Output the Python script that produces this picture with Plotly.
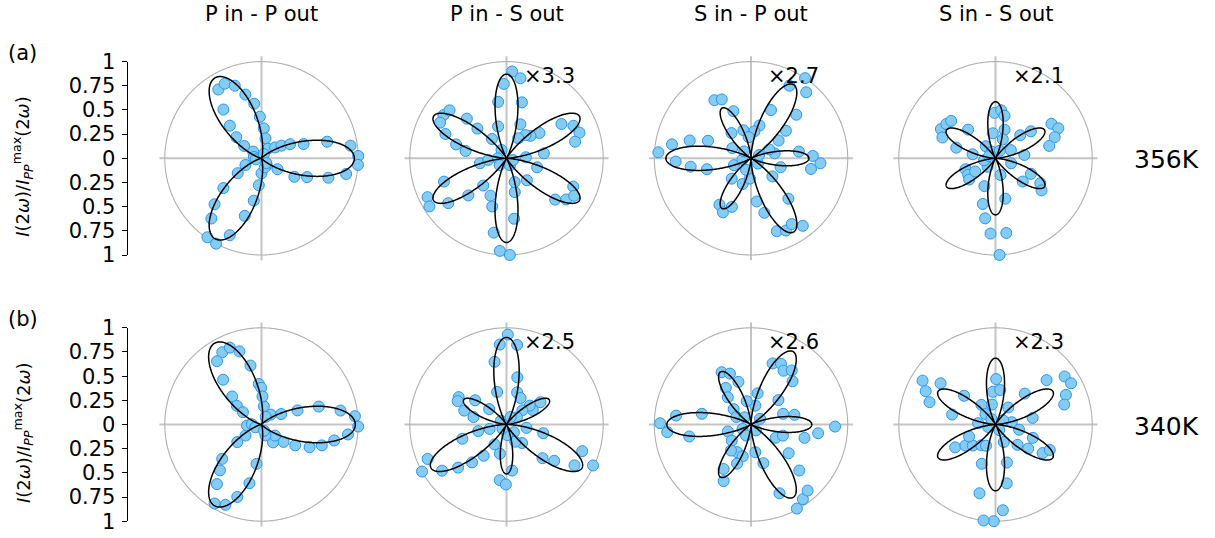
import numpy as np
import plotly.graph_objects as go

W, H = 1215, 538
FONT = "DejaVu Sans"

col_titles = ["P in - P out", "P in - S out", "S in - P out", "S in - S out"]
row_temps = ["356K", "340K"]
row_tags = ["(a)", "(b)"]
gain_labels = [[None, "×3.3", "×2.7", "×2.1"], [None, "×2.5", "×2.6", "×2.3"]]
axis_ticks = [-1, -0.75, -0.5, -0.25, 0, 0.25, 0.5, 0.75, 1]
axis_ticktext = ["1", "0.75", "0.5", "0.25", "0", "0.25", "0.5", "0.75", "1"]

# fitted model per panel: I(phi) = (c*cos(3*(phi - phi0)) + d)^2
fit_c = [[0.49, 0.933, 0.856, 0.765], [0.4925, 0.832, 0.863, 0.828]]
fit_d = [[0.49, 0.0, -0.082, 0.0], [0.4925, -0.117, -0.07, 0.0]]
fit_phi0 = [[0, 30, 0, 30], [0, 30, 0, 30]]

# measured SHG intensity (normalised) versus polarisation angle (deg)
pp_356_phi = [122.1, 116.3, 110.2, 104.2, 97.6, 92.3, 85.6, 78.7, 128, 134.1, 140, 144.6, 141, 56.3, 38.7,
              32.3, 26.3, 18.7, 14.2, 8.1, 1.4, 356.1, 349.5, 343.8, 337.6, 330.7, 325.8, 307, 270, 264.3,
              259.7, 253.8, 247.6, 242, 235.6, 230.2, 224.4, 218, 212, 202.6, 170, 190, 60, 290, 315]
pp_356_i = [0.84, 0.86, 0.80, 0.68, 0.57, 0.43, 0.31, 0.21, 0.64, 0.47, 0.34, 0.22, 0.11, 0.12, 0.18,
            0.245, 0.33, 0.46, 0.70, 0.93, 1.0, 1.0, 0.89, 0.72, 0.51, 0.39, 0.20, 0.09, 0.155, 0.28,
            0.445, 0.62, 0.86, 1.0, 0.99, 0.81, 0.68, 0.50, 0.29, 0.18, 0.08, 0.06, 0.05, 0.10, 0.07]

ps_356_phi = [86.3, 80.1, 92.1, 98.4, 74.6, 67.8, 104.7, 127, 145.6, 139.9, 151.8, 158.3, 164.6, 135, 134.4,
              169.8, 190.6, 185, 200.4, 206.2, 212, 217.6, 224.2, 229.5, 246.8, 253.5, 260.3, 265.9, 272,
              277.2, 283.8, 289, 312.8, 343.6, 319.7, 325.4, 337, 331, 7.6, 3, 37.6, 43, 50.8, 32, 25.9,
              19.3, 13.6, 59.7, 121, 180, 225, 297, 345]
ps_356_i = [0.90, 0.84, 0.77, 0.59, 0.60, 0.38, 0.34, 0.25, 0.79, 0.77, 0.78, 0.68, 0.54, 0.58, 0.43,
            0.43, 0.28, 0.19, 0.69, 0.91, 0.94, 0.76, 0.55, 0.37, 0.42, 0.52, 0.78, 0.96, 1.0,
            0.63, 0.36, 0.26, 0.31, 0.33, 0.66, 0.75, 0.75, 0.80, 0.39, 0.20, 0.43, 0.34, 0.31, 0.67, 0.77,
            0.80, 0.73, 0.24, 0.10, 0.09, 0.10, 0.08, 0.07]

sp_356_phi = [56, 50.1, 62.1, 43.9, 67.5, 38.3, 32.9, 75.5, 82.9, 122.2, 116.4, 110.5, 127.7, 105.1, 96.3,
              170, 163.8, 157.8, 176.3, 182.5, 187.9, 193.9, 151.4, 201.8, 226.5, 252, 267.1, 235.8, 242.5,
              248.5, 277.5, 283.8, 312.8, 289.5, 295.8, 301.8, 307.5, 319.8, 343.3, 349.9, 355.9, 2.2, 8,
              11.8, 26, 190, 323, 135, 22, 247]
sp_356_i = [1.0, 0.89, 0.85, 0.65, 0.54, 0.46, 0.34, 0.35, 0.28, 0.71, 0.68, 0.52, 0.33, 0.30, 0.22,
            0.83, 0.66, 0.48, 0.96, 0.78, 0.63, 0.47, 0.22, 0.19, 0.29, 0.28, 0.21, 0.58, 0.63,
            0.54, 0.45, 0.58, 0.57, 0.80, 0.83, 0.80, 0.88, 0.29, 0.32, 0.63, 0.72, 0.64, 0.50,
            0.25, 0.21, 0.09, 0.09, 0.10, 0.09, 0.13]

ss_356_phi = [91.3, 83.3, 78, 96.1, 72.4, 68.9, 151.9, 145.2, 139.9, 158.6, 164.8, 133.6, 170, 129, 31.7,
              25.5, 19.6, 13, 37.3, 43, 6.6, 28, 336.3, 331, 325.1, 319.5, 342.3, 283.6, 286.7, 248.3,
              254.5, 260.2, 266.2, 278.2, 272.4, 200, 211, 218.9, 213, 227, 190, 120, 60, 160]
ss_356_i = [0.47, 0.50, 0.45, 0.26, 0.31, 0.21, 0.64, 0.62, 0.60, 0.59, 0.42, 0.41, 0.24, 0.16, 0.68,
            0.72, 0.65, 0.57, 0.46, 0.35, 0.30, 0.18, 0.40, 0.53, 0.58, 0.37, 0.17, 0.43, 0.18, 0.31,
            0.49, 0.63, 0.78, 0.78, 1.0, 0.33, 0.33, 0.35, 0.25, 0.12, 0.12, 0.08, 0.09, 0.07]

pp_340_phi = [118.5, 112.4, 106.8, 125.1, 100.6, 130.6, 93.8, 90.5, 136.3, 142.8, 146.5, 82.6, 88, 47, 28,
              21.4, 17.4, 10, 5.1, 358.8, 353.4, 347.6, 340.9, 334.7, 328.3, 321.6, 302.7, 320.5, 290,
              262.8, 258.4, 251.5, 245.8, 239.3, 233.2, 227.8, 221.1, 216, 214.5, 184, 178, 204, 61, 292]
pp_340_i = [0.85, 0.86, 0.79, 0.80, 0.62, 0.61, 0.42, 0.38, 0.42, 0.32, 0.23, 0.19, 0.29, 0.14, 0.23,
            0.40, 0.62, 0.83, 0.97, 1.0, 0.90, 0.77, 0.66, 0.55, 0.41, 0.29, 0.22, 0.18, 0.12,
            0.41, 0.62, 0.79, 0.91, 0.95, 0.77, 0.64, 0.54, 0.31, 0.20, 0.15, 0.10, 0.07, 0.09, 0.07]

ps_340_phi = [89.2, 94.8, 82.4, 100.8, 77.1, 106.1, 71.7, 62, 150.2, 154.4, 161.8, 167.3, 142.3, 138.4,
              33.3, 28.8, 39, 41.8, 34.5, 346.7, 350.5, 316.9, 322.7, 329, 340.6, 334.7, 310, 277, 263.1,
              269.4, 257.2, 239, 233.8, 227.7, 221.7, 215.6, 203.6, 209.1, 197.9, 193.1, 194.6, 314, 274,
              146, 61, 225, 297]
ps_340_i = [0.93, 0.83, 0.83, 0.66, 0.50, 0.35, 0.35, 0.31, 0.57, 0.56, 0.46, 0.35, 0.41, 0.24,
            0.42, 0.31, 0.31, 0.22, 0.13, 0.39, 0.21, 0.51, 0.62, 0.82, 0.83, 0.99, 0.25, 0.48, 0.58,
            0.62, 0.31, 0.24, 0.40, 0.53, 0.67, 0.82, 0.89, 1.0, 0.48, 0.30, 0.18, 0.11, 0.11,
            0.07, 0.09, 0.06, 0.20]

sp_340_phi = [70.5, 63.7, 58.8, 53, 46.1, 41.7, 78, 77, 100.5, 119.3, 112.5, 106.4, 124.5, 130.5, 138.4,
              152.9, 167.7, 173.2, 179.2, 185.2, 191, 196.7, 220.1, 243.2, 232.4, 255.4, 250.4, 238.3,
              244.2, 278.9, 287.7, 292.5, 298.6, 304.8, 310.6, 316.4, 322.7, 331.9, 340.8, 346, 352.6,
              358.6, 12.6, 18.3, 32, 208, 246, 310, 132]
sp_340_i = [0.67, 0.70, 0.65, 0.70, 0.62, 0.38, 0.33, 0.20, 0.245, 0.62, 0.57, 0.46, 0.46, 0.37, 0.24,
            0.17, 0.52, 0.78, 0.94, 0.87, 0.65, 0.25, 0.26, 0.32, 0.34, 0.34, 0.43, 0.54,
            0.65, 0.29, 0.42, 0.77, 0.99, 0.94, 0.90, 0.69, 0.49, 0.29, 0.35, 0.57, 0.70,
            0.87, 0.46, 0.35, 0.11, 0.10, 0.125, 0.08, 0.10]

ss_340_phi = [89.2, 94.7, 82.2, 100.4, 149, 154.5, 161.3, 143.1, 137.5, 167.1, 125.6, 134, 175.5, 41, 34.8,
              28.6, 22.8, 16.2, 46.6, 10.1, 53.1, 8, 347.5, 340.3, 323.6, 317.3, 328.8, 334.9, 295.3,
              286.7, 280.8, 274.9, 269, 262.9, 256.9, 250.8, 209.5, 215, 222.8, 235.7, 246, 204.2, 199,
              304, 127, 29]
ss_340_i = [0.47, 0.34, 0.36, 0.21, 0.88, 0.80, 0.72, 0.71, 0.44, 0.46, 0.25, 0.15, 0.18, 0.70, 0.87,
            0.89, 0.79, 0.74, 0.44, 0.39, 0.22, 0.17, 0.25, 0.41, 0.42, 0.31, 0.57, 0.62, 0.20,
            0.41, 0.62, 0.89, 1.0, 1.0, 0.73, 0.43, 0.48, 0.38, 0.32, 0.26, 0.24, 0.30, 0.08,
            0.07, 0.07, 0.09]

measured = [
    [(pp_356_phi, pp_356_i), (ps_356_phi, ps_356_i), (sp_356_phi, sp_356_i), (ss_356_phi, ss_356_i)],
    [(pp_340_phi, pp_340_i), (ps_340_phi, ps_340_i), (sp_340_phi, sp_340_i), (ss_340_phi, ss_340_i)],
]

# geometry in pixels
col_cx = [261.5, 506.5, 751.0, 995.5]
row_cy = [158.3, 424.5]
R_PX = 96.7          # pixel radius of the unit circle
R_MAX = 1.055        # radial extent of the crosshair lines
AXIS_X = 127.7


def fx(px):
    return px / W


def fy(py):
    return 1 - py / H


def label(x, y, text, size, **kw):
    return dict(x=fx(x), y=fy(y), xref="paper", yref="paper", text=text, showarrow=False,
                xanchor="center", yanchor="middle",
                font=dict(family=FONT, size=size, color="black"), **kw)


fig = go.Figure()
layout_polars = {}
annotations = []

ring_theta = np.linspace(0, 360, 721)
model_theta = np.linspace(0, 360, 1441)

k = 0
for ri in range(2):
    for ci in range(4):
        k += 1
        name = "polar" if k == 1 else f"polar{k}"
        cx, cy = col_cx[ci], row_cy[ri]
        half = R_PX * R_MAX
        layout_polars[name] = dict(
            domain=dict(x=[fx(cx - half), fx(cx + half)], y=[fy(cy + half), fy(cy - half)]),
            bgcolor="rgba(0,0,0,0)",
            angularaxis=dict(rotation=0, direction="counterclockwise", tickmode="array",
                             tickvals=[0, 90, 180, 270], showticklabels=False, ticks="",
                             showgrid=True, gridcolor="#c4c4c4", gridwidth=1.6,
                             showline=False, layer="below traces"),
            radialaxis=dict(range=[0, R_MAX], showgrid=False, showline=False,
                            showticklabels=False, ticks="", layer="below traces"),
        )
        # unit circle
        fig.add_trace(go.Scatterpolar(r=np.ones_like(ring_theta), theta=ring_theta, mode="lines",
                                      line=dict(color="#b0b0b0", width=1.1), subplot=name,
                                      hoverinfo="skip", showlegend=False))
        phi, inten = measured[ri][ci]
        fig.add_trace(go.Scatterpolar(r=inten, theta=phi, mode="markers", subplot=name,
                                      cliponaxis=False, showlegend=False,
                                      marker=dict(size=11, color="rgb(133,204,240)",
                                                  line=dict(color="rgb(40,150,245)", width=1))))
        c, d, p0 = fit_c[ri][ci], fit_d[ri][ci], fit_phi0[ri][ci]
        model_r = (c * np.cos(np.deg2rad(3 * (model_theta - p0))) + d) ** 2
        fig.add_trace(go.Scatterpolar(r=model_r, theta=model_theta, mode="lines", subplot=name,
                                      line=dict(color="black", width=1.5), cliponaxis=False,
                                      hoverinfo="skip", showlegend=False))
        if ri == 0:
            annotations.append(label(cx, 14, col_titles[ci], 21))
        if gain_labels[ri][ci]:
            annotations.append(label(cx + 42.8, cy - 82.5, gain_labels[ri][ci], 21))

# left intensity scales
for ri in range(2):
    cy = row_cy[ri]
    xa = "xaxis" if ri == 0 else "xaxis2"
    ya = "yaxis" if ri == 0 else "yaxis2"
    xref = "x" if ri == 0 else "x2"
    yref = "y" if ri == 0 else "y2"
    fig.add_trace(go.Scatter(x=[0], y=[0], mode="markers", marker=dict(opacity=0),
                             xaxis=xref, yaxis=yref, hoverinfo="skip", showlegend=False))
    fig.layout[xa] = dict(domain=[fx(AXIS_X), fx(AXIS_X + 4)], visible=False, range=[0, 1],
                          anchor=yref, automargin=False)
    fig.layout[ya] = dict(domain=[fy(cy + R_PX), fy(cy - R_PX)], range=[-1, 1], anchor=xref,
                          automargin=False,
                          showline=True, linecolor="black", linewidth=1.2, ticks="outside",
                          ticklen=5, tickwidth=1.2, tickcolor="black", tickmode="array",
                          tickvals=axis_ticks, ticktext=axis_ticktext, showgrid=False,
                          zeroline=False, ticklabelstandoff=2,
                          tickfont=dict(family=FONT, size=21, color="black"))
    annotations.append(label(22.5, cy + 8,
                             "<i>I</i>(2<i>ω</i>)/<i>I</i><sub><i>PP</i></sub><sup>max</sup>(2<i>ω</i>)",
                             18, textangle=-90))
    annotations.append(label(22.5, cy - 105.5, row_tags[ri], 21))
    annotations.append(label(1166, cy + 1.5, row_temps[ri], 25))

fig.update_layout(width=W, height=H,
                  margin=dict(l=0, r=0, t=0, b=0, pad=0, autoexpand=False),
                  paper_bgcolor="white", plot_bgcolor="white", showlegend=False,
                  annotations=annotations, **layout_polars)

fig.write_html("out.html")
